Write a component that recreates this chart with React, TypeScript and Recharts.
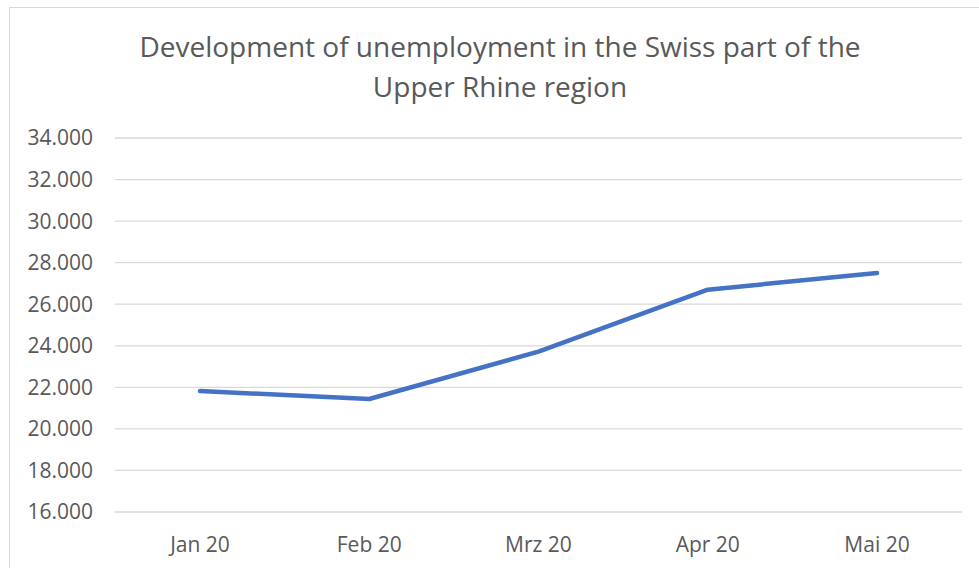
import { LineChart, Line, XAxis, YAxis, CartesianGrid } from 'recharts';

const months = ['Jan 20', 'Feb 20', 'Mrz 20', 'Apr 20', 'Mai 20'];
const unemployed = [21820, 21440, 23720, 26700, 27500];
const yTicks = [16000, 18000, 20000, 22000, 24000, 26000, 28000, 30000, 32000, 34000];

const titleLines = [
  'Development of unemployment in the Swiss part of the',
  'Upper Rhine region',
];

const data = months.map((month, i) => ({ month, value: unemployed[i] }));

const textColor = '#595959';
const font = '"Open Sans", sans-serif';

// 16000 -> 16.000
const formatThousands = (v: number) =>
  String(v).replace(/\B(?=(\d{3})+(?!\d))/g, '.');

export default function App() {
  return (
    <div
      style={{
        position: 'fixed',
        left: 0,
        top: 0,
        width: 979,
        height: 568,
        overflow: 'hidden',
        background: '#fff',
        fontFamily: font,
      }}
    >
      <div
        style={{
          position: 'absolute',
          left: 9,
          top: 7,
          width: 1000,
          height: 620,
          border: '1px solid #d9d9d9',
        }}
      />
      <div
        style={{
          position: 'absolute',
          left: 9,
          top: 26,
          width: 982,
          textAlign: 'center',
          fontSize: 28,
          lineHeight: '40px',
          color: textColor,
        }}
      >
        {titleLines.map((line) => (
          <div key={line}>{line}</div>
        ))}
      </div>
      <div style={{ position: 'absolute', left: 0, top: 0 }}>
        <LineChart
          width={979}
          height={568}
          data={data}
          margin={{ top: 138, right: 17, left: 0, bottom: 26 }}
        >
          <CartesianGrid vertical={false} stroke="#d9d9d9" strokeWidth={1.3} />
          <XAxis
            dataKey="month"
            height={30}
            padding={{ left: 85, right: 85 }}
            axisLine={false}
            tickLine={false}
            tickSize={0}
            tickMargin={25}
            tick={{ fill: textColor, fontSize: 21, fontFamily: font }}
          />
          <YAxis
            domain={[16000, 34000]}
            ticks={yTicks}
            width={115}
            axisLine={false}
            tickLine={false}
            tickSize={0}
            tickMargin={22}
            tickFormatter={formatThousands}
            tick={{ fill: textColor, fontSize: 21, fontFamily: font }}
          />
          <Line
            dataKey="value"
            stroke="#4472C4"
            strokeWidth={4.5}
            strokeLinecap="round"
            strokeLinejoin="round"
            dot={false}
            isAnimationActive={false}
          />
        </LineChart>
      </div>
    </div>
  );
}
